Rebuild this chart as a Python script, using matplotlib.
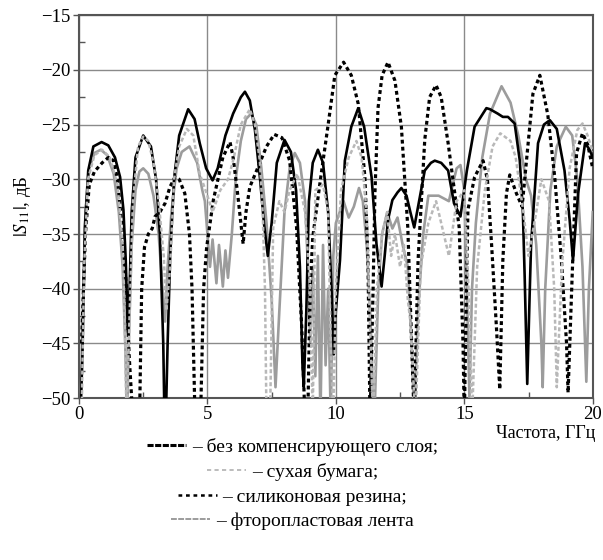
import numpy as np
import matplotlib
matplotlib.use('Agg')
import matplotlib.pyplot as plt
from matplotlib.lines import Line2D

plt.rcParams['font.family'] = ['Liberation Serif', 'DejaVu Serif']
plt.rcParams['mathtext.fontset'] = 'stix'

# без компенсирующего слоя (black solid)
f_bare = [0.05, 0.13, 0.23, 0.36, 0.56, 0.88, 1.14, 1.4, 1.6, 1.73, 1.82, 1.9, 1.97,
          2.05, 2.2, 2.5, 2.8, 3.0, 3.15, 3.28, 3.35, 3.45, 3.55, 3.7, 3.9, 4.25, 4.5,
          4.7, 4.95, 5.2, 5.4, 5.7, 6.0, 6.3, 6.46, 6.65, 6.85, 7.05, 7.2, 7.35, 7.5,
          7.7, 8.0, 8.25, 8.45, 8.6, 8.7, 8.75, 8.85, 8.95, 9.1, 9.3, 9.5, 9.7, 9.83,
          9.92, 10.0, 10.16, 10.35, 10.6, 10.87, 11.1, 11.39, 11.58, 11.78, 11.9, 12.03,
          12.2, 12.4, 12.55, 12.75, 12.9, 13.05, 13.2, 13.46, 13.7, 13.85, 14.1, 14.37,
          14.6, 14.85, 15.1, 15.4, 15.86, 16.0, 16.3, 16.5, 16.7, 16.96, 17.16, 17.28,
          17.35, 17.45, 17.55, 17.6, 17.87, 18.1, 18.33, 18.6, 18.9, 19.1, 19.23, 19.43,
          19.7, 19.88, 20.0]
s_bare = [-52, -46.5, -34.4, -29.2, -27.0, -26.6, -26.9, -28.0, -29.8, -32.8, -37.4, -44, -40,
          -33, -28, -26, -27, -30, -35, -45, -55, -45, -37, -30, -26, -23.6, -24.5,
          -26.7, -29, -30.1, -29, -26, -24, -22.5, -22, -22.8, -25.5, -30, -34, -37, -34,
          -28.5, -26.4, -27.5, -31, -38, -47, -49, -42, -32, -28.5, -27.3, -28.5, -33, -40,
          -46, -42, -37.4, -28.3, -25.2, -23.5, -25.2, -29.8, -35.9, -39.8, -37, -33.7,
          -31.9, -31.2, -30.8, -31.5, -33, -34.4, -32.5, -29.2, -28.5, -28.3, -28.5, -29.2,
          -32.2, -33.4, -29.2, -25.2, -23.5, -23.6, -24.0, -24.3, -24.3, -24.9, -28.3, -33,
          -38.9, -48.7, -40, -35.9, -26.7, -25, -24.6, -25.4, -29.2, -33.7, -37.4, -31.3,
          -26.7, -27.3, -28]

# сухая бумага (light grey dashed)
f_paper = [0.1, 0.2, 0.35, 0.6, 0.9, 1.2, 1.5, 1.7, 1.8, 1.85, 2.0, 2.1, 2.3, 2.5, 2.7,
           2.9, 3.1, 3.3, 3.4, 3.55, 3.7, 3.9, 4.2, 4.45, 4.7, 5.0, 5.2, 5.5, 5.8, 6.0,
           6.3, 6.65, 6.85, 7.04, 7.15, 7.24, 7.3, 7.45, 7.56, 7.8, 8.0, 8.2, 8.5, 8.8,
           9.0, 9.1, 9.2, 9.5, 9.7, 9.8, 9.9, 10.0, 10.2, 10.5, 10.8, 11.0, 11.2, 11.35,
           11.45, 11.6, 11.8, 12.0, 12.15, 12.3, 12.5, 12.65, 12.8, 12.9, 13.1, 13.3,
           13.6, 13.9, 14.2, 14.4, 14.7, 15.0, 15.2, 15.3, 15.5, 15.8, 16.1, 16.4, 16.8,
           17.0, 17.3, 17.5, 17.8, 18.0, 18.3, 18.5, 18.6, 18.8, 19.1, 19.4, 19.6, 19.8, 20.0]
s_paper = [-52, -38, -30, -27.8, -27.3, -28, -30.5, -36, -45, -52, -40, -32, -27, -26.1, -26.5,
           -28.5, -32, -37, -42, -38, -30, -27, -25.4, -26, -29.5, -31.5, -33, -31, -30, -28.3,
           -25, -23.6, -25, -28.3, -33, -40, -52, -50, -34.4, -32, -33, -31, -29.5, -33,
           -40, -52, -31, -30.5, -33, -45, -52, -40, -31, -28, -26.5, -28, -33, -45,
           -52, -40, -35, -33, -37, -35, -38, -36, -41, -43, -52, -38,
           -34, -32, -35, -37, -32, -31, -42, -52, -38, -31, -27, -25.8, -26.5,
           -28, -33, -37, -33, -30, -32, -40, -49, -38, -29, -25.5, -24.9, -26, -27.5]

# силиконовая резина (black dotted)
f_rubber = [0.1, 0.25, 0.4, 0.6, 0.9, 1.15, 1.35, 1.5, 1.7, 1.85, 1.95, 2.05, 2.2, 2.37,
            2.44, 2.55, 2.7, 2.85, 2.96, 3.15, 3.35, 3.54, 3.74, 3.9, 4.12, 4.3, 4.4, 4.5,
            4.6, 4.75, 4.85, 4.97, 5.23, 5.6, 5.88, 6.0, 6.16, 6.39, 6.5, 6.65, 7.04, 7.3,
            7.6, 7.9, 8.2, 8.47, 8.67, 8.8, 8.92, 9.0, 9.1, 9.4, 9.7, 9.96, 10.3, 10.6,
            10.87, 11.13, 11.25, 11.33, 11.45, 11.52, 11.64, 11.8, 12.03, 12.3, 12.55,
            12.8, 12.95, 13.05, 13.15, 13.2, 13.46, 13.65, 13.9, 14.1, 14.37, 14.63, 14.8,
            14.95, 15.0, 15.07, 15.14, 15.4, 15.73, 15.9, 16.06, 16.25, 16.38, 16.5, 16.64,
            16.77, 17.03, 17.25, 17.42, 17.67, 17.94, 18.25, 18.52, 18.78, 18.98, 19.04,
            19.17, 19.37, 19.6, 19.8, 20.0]
s_rubber = [-45, -35, -30.5, -29.3, -28.5, -28, -28.3, -30, -35, -40, -46, -50, -55, -50,
            -40, -36.2, -35, -34.5, -33.4, -33, -32.2, -30.7, -29.8, -30, -31.3, -35, -40, -50,
            -55, -50, -40, -36.2, -31.9, -28, -26.6, -28, -31, -35.9, -33, -30.7, -28.5, -27,
            -25.9, -26.2, -28.3, -34.4, -43.5, -52, -50, -40, -35.3, -30, -25, -20.5, -19.3, -20.5,
            -23.1, -29.8, -37.4, -52, -40, -31.3, -23.5, -20.5, -19.3, -21, -25.2,
            -34.4, -45, -52, -42, -37.4, -26.4, -22.5, -21.4, -22.5, -26.7, -31.3, -34.4,
            -45, -52, -42, -32.8, -29.8, -28.3, -30, -35.9, -43.5, -49.2, -37.4, -31.3,
            -29.6, -31.3, -32.5, -28.3, -22.2, -20.5, -24.1, -29.8, -37.4, -45, -49.5,
            -40.7, -27.6, -25.8, -26.8, -29]

# фторопластовая лента (grey solid)
f_tape = [0.05, 0.15, 0.25, 0.4, 0.6, 0.85, 1.1, 1.35, 1.55, 1.7, 1.8, 1.87, 1.95, 2.05,
          2.2, 2.35, 2.5, 2.7, 2.9, 3.1, 3.25, 3.35, 3.45, 3.6, 3.8, 4.0, 4.3, 4.6, 4.8,
          4.9, 5.0, 5.1, 5.2, 5.35, 5.45, 5.6, 5.7, 5.8, 5.95, 6.1, 6.3, 6.5, 6.7, 6.9,
          7.1, 7.3, 7.5, 7.65, 7.8, 8.0, 8.2, 8.4, 8.6, 8.8, 8.95, 9.0, 9.1, 9.2, 9.3,
          9.4, 9.5, 9.6, 9.7, 9.8, 9.9, 10.0, 10.15, 10.3, 10.5, 10.7, 10.9, 11.05, 11.2,
          11.35, 11.45, 11.5, 11.65, 11.8, 12.0, 12.2, 12.4, 12.6, 12.8, 12.95, 13.05,
          13.2, 13.4, 13.6, 14.0, 14.4, 14.7, 14.85, 15.0, 15.1, 15.2, 15.3, 15.45, 15.7,
          16.0, 16.45, 16.8, 17.1, 17.4, 17.6, 17.8, 18.0, 18.05, 18.15, 18.35, 18.6,
          18.95, 19.2, 19.4, 19.6, 19.75, 19.85, 20.0]
s_tape = [-52, -42, -33, -29, -27.6, -27.3, -27.8, -29.5, -33, -38, -45, -52, -44, -36,
          -31, -29.3, -29, -29.5, -31.5, -35, -40, -43, -38, -33, -29, -27.5, -27, -28.5, -31,
          -32, -35, -38, -35.5, -39.5, -36, -39.8, -36.5, -39, -35, -30, -26.5, -24.5, -24, -25,
          -29, -34, -41, -49, -42, -33, -29, -27.6, -28.5, -32, -40, -45, -38, -48, -37,
          -52, -36, -47, -40, -52, -37, -34, -33, -32, -33.5, -32.5, -30.8, -32, -36,
          -43, -50, -52, -40, -35, -33, -34.5, -33.5, -36, -38, -45, -52,
          -42, -35, -31.5, -31.5, -32, -29, -28.7, -31, -40, -50, -40, -34, -28,
          -24, -21.5, -23, -26, -30, -31.5, -36, -45, -49, -40, -31, -27,
          -25.2, -26, -30, -38, -48.5, -40, -33]

fig = plt.figure(figsize=(6.03, 5.6), dpi=100)
ax = fig.add_axes([0.131, 0.289, 0.852, 0.684])

ax.plot(f_bare, s_bare, color='black', lw=1.9, zorder=4)
ax.plot(f_tape, s_tape, color='#9c9c9c', lw=1.9, zorder=3)
ax.plot(f_rubber, s_rubber, color='black', lw=2.3, ls=(0, (1.2, 1.0)), zorder=5)
ax.plot(f_paper, s_paper, color='#b8b8b8', lw=1.8, ls=(0, (1.6, 1.0)), zorder=6)

ax.set_xlim(0, 20)
ax.set_ylim(-50, -15)
ax.set_xticks([0, 5, 10, 15, 20])
ax.set_yticks([-50, -45, -40, -35, -30, -25, -20, -15])
ax.set_xticks([2.5, 7.5, 12.5, 17.5], minor=True)
ax.set_yticks(np.arange(-47.5, -15, 5), minor=True)
ax.set_yticklabels(['\u221250', '\u221245', '\u221240', '\u221235', '\u221230',
                    '\u221225', '\u221220', '\u221215'])
ax.tick_params(which='major', direction='out', length=4, width=1, color='#555555',
               labelsize=13.5, pad=2)
ax.tick_params(which='minor', direction='in', length=4, width=1, color='#555555')
ax.grid(True, which='major', color='#8a8a8a', lw=1.0)
for sp in ax.spines.values():
    sp.set_color('#555555')
    sp.set_linewidth(1.5)

ax.set_ylabel(r'$|S_{11}|$, дБ', fontsize=13.5, labelpad=6)
ax.set_xlabel('Частота, ГГц', fontsize=13, loc='right', labelpad=1)
ax.xaxis.label.set_x(1.006)

# legend, one centred row per curve
entries = [
    (Line2D([], [], color='black', lw=2.2, ls=(0, (2.0, 0.5))), '– без компенсирующего слоя;'),
    (Line2D([], [], color='#b0b0b0', lw=1.2, ls=(0, (2.5, 2.0))), '– сухая бумага;'),
    (Line2D([], [], color='black', lw=1.8, ls=(0, (1.5, 1.5))), '– силиконовая резина;'),
    (Line2D([], [], color='#9c9c9c', lw=1.4, ls=(0, (3.0, 0.7))), '– фторопластовая лента'),
]
rows_y = [0.202, 0.157, 0.1125, 0.069]
for (h, lab), yy in zip(entries, rows_y):
    fig.legend([h], [lab], loc='center', bbox_to_anchor=(0.485, yy), frameon=False,
               fontsize=14, handlelength=2.0, handletextpad=0.3, borderpad=0,
               borderaxespad=0)

fig.savefig('out.png', dpi=100)
